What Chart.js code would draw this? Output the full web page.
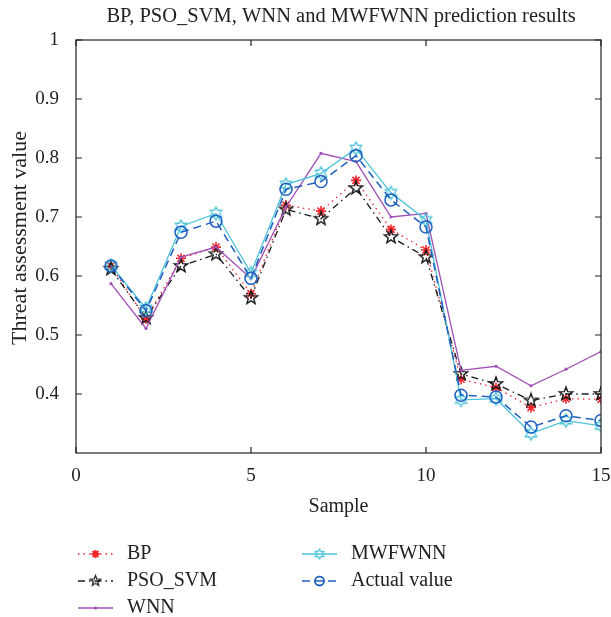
<!DOCTYPE html>
<html>
<head>
<meta charset="utf-8">
<script src="https://cdn.jsdelivr.net/npm/chart.js@4.4.1/dist/chart.umd.min.js"></script>
<style>
  html, body { margin: 0; padding: 0; background: #ffffff; }
  #wrap { width: 611px; height: 617px; position: relative; }
</style>
</head>
<body>
<div id="wrap"><canvas id="c" width="611" height="617"></canvas></div>
<script>
// ---- data ----
const samples = [1, 2, 3, 4, 5, 6, 7, 8, 9, 10, 11, 12, 13, 14, 15];
const bpValues      = [0.617, 0.527, 0.630, 0.649, 0.570, 0.720, 0.710, 0.762, 0.679, 0.644, 0.425, 0.411, 0.377, 0.392, 0.391];
const psoSvmValues  = [0.612, 0.529, 0.617, 0.637, 0.563, 0.713, 0.697, 0.749, 0.666, 0.632, 0.434, 0.417, 0.389, 0.400, 0.400];
const wnnValues     = [0.587, 0.511, 0.632, 0.649, 0.596, 0.717, 0.808, 0.794, 0.700, 0.706, 0.440, 0.447, 0.414, 0.442, 0.472];
const mwfwnnValues  = [0.618, 0.545, 0.684, 0.706, 0.605, 0.755, 0.774, 0.816, 0.741, 0.695, 0.390, 0.392, 0.333, 0.355, 0.346];
const actualValues  = [0.617, 0.541, 0.674, 0.693, 0.596, 0.747, 0.760, 0.804, 0.729, 0.683, 0.398, 0.395, 0.344, 0.363, 0.355];
const seriesNames = ['BP', 'PSO_SVM', 'WNN', 'MWFWNN', 'Actual value'];
const xTicks = [0, 5, 10, 15];
const yTicks = [0.4, 0.5, 0.6, 0.7, 0.8, 0.9, 1];
const chartTitle = 'BP, PSO_SVM, WNN and MWFWNN prediction results';
const xTitle = 'Sample';
const yTitle = 'Threat assessment value';

const FONT = '"Liberation Serif", "DejaVu Serif", serif';
const RED = '#f0262a', BLACK = '#1a1a1a', PURPLE = '#a04fb4', CYAN = '#4cc3d9', BLUE = '#1f5fbf';

function starCanvas(n, rOut, rIn, color, lw, rot) {
  const size = Math.ceil(2 * rOut + 4);
  const cv = document.createElement('canvas');
  cv.width = size; cv.height = size;
  const g = cv.getContext('2d');
  g.translate(size / 2, size / 2);
  g.beginPath();
  for (let i = 0; i < 2 * n; i++) {
    const r = i % 2 === 0 ? rOut : rIn;
    const a = -Math.PI / 2 + rot + i * Math.PI / n;
    const x = r * Math.cos(a), y = r * Math.sin(a);
    if (i === 0) g.moveTo(x, y); else g.lineTo(x, y);
  }
  g.closePath();
  g.strokeStyle = color; g.lineWidth = lw; g.lineJoin = 'miter';
  g.stroke();
  return cv;
}
const pentagram = starCanvas(5, 7, 2.9, BLACK, 1.4, 0);
const hexagram = starCanvas(6, 6.5, 3.6, CYAN, 1.3, 0);
const pentagramSmall = starCanvas(5, 5.5, 2.3, BLACK, 1.2, 0);
const hexagramSmall = starCanvas(6, 5, 2.8, CYAN, 1.2, 0);

function pts(arr) { return arr.map((v, i) => ({ x: samples[i], y: v })); }

const datasets = [
  { label: seriesNames[0], data: pts(bpValues), borderColor: RED, borderWidth: 1.3, borderDash: [1.5, 4],
    pointStyle: 'star', pointRadius: 5, pointBorderColor: RED, pointBorderWidth: 1.6, pointBackgroundColor: RED, order: 5 },
  { label: seriesNames[1], data: pts(psoSvmValues), borderColor: BLACK, borderWidth: 1.3, borderDash: [7, 4, 1.5, 4],
    pointStyle: pentagram, order: 4 },
  { label: seriesNames[2], data: pts(wnnValues), borderColor: PURPLE, borderWidth: 1.3,
    pointStyle: 'circle', pointRadius: 1.6, pointBorderWidth: 0, pointBackgroundColor: PURPLE, order: 3 },
  { label: seriesNames[3], data: pts(mwfwnnValues), borderColor: CYAN, borderWidth: 1.3,
    pointStyle: hexagram, order: 2 },
  { label: seriesNames[4], data: pts(actualValues), borderColor: BLUE, borderWidth: 1.5, borderDash: [8, 5],
    pointStyle: 'circle', pointRadius: 6, pointBorderColor: BLUE, pointBorderWidth: 1.5, pointBackgroundColor: 'rgba(0,0,0,0)', order: 1 }
];
datasets.forEach(d => { d.fill = false; d.tension = 0; d.showLine = true; });
const legendMarkers = [null, pentagramSmall, null, hexagramSmall, null];
const legendRadius = [4, 0, 1.6, 0, 4.5];

const boxPlugin = {
  id: 'boxPlugin',
  afterDraw(chart) {
    const { ctx, chartArea: a, scales } = chart;
    ctx.save();
    ctx.strokeStyle = '#222'; ctx.lineWidth = 1.2;
    ctx.strokeRect(a.left, a.top, a.right - a.left, a.bottom - a.top);
    const tl = 6;
    ctx.beginPath();
    xTicks.forEach(v => {
      const x = scales.x.getPixelForValue(v);
      ctx.moveTo(x, a.bottom); ctx.lineTo(x, a.bottom - tl);
      ctx.moveTo(x, a.top); ctx.lineTo(x, a.top + tl);
    });
    yTicks.forEach(v => {
      const y = scales.y.getPixelForValue(v);
      ctx.moveTo(a.left, y); ctx.lineTo(a.left + tl, y);
      ctx.moveTo(a.right, y); ctx.lineTo(a.right - tl, y);
    });
    ctx.stroke();

    // title
    ctx.fillStyle = '#222';
    ctx.font = '20.5px ' + FONT;
    ctx.textAlign = 'center'; ctx.textBaseline = 'middle';
    ctx.fillText(chartTitle, 341, 17);
    // x title
    ctx.font = '20px ' + FONT;
    ctx.fillText(xTitle, (a.left + a.right) / 2, 507);
    // y title
    ctx.save();
    ctx.font = '22px ' + FONT;
    ctx.translate(20, 238);
    ctx.rotate(-Math.PI / 2);
    ctx.fillText(yTitle, 0, 0);
    ctx.restore();

    // legend
    const items = [
      { ds: 0, x: 78, y: 554 },
      { ds: 1, x: 78, y: 581 },
      { ds: 2, x: 78, y: 608 },
      { ds: 3, x: 302, y: 554 },
      { ds: 4, x: 302, y: 581 }
    ];
    items.forEach(it => {
      const d = datasets[it.ds];
      ctx.save();
      ctx.strokeStyle = d.borderColor; ctx.lineWidth = d.borderWidth;
      ctx.setLineDash(d.borderDash || []);
      ctx.beginPath(); ctx.moveTo(it.x, it.y); ctx.lineTo(it.x + 35, it.y); ctx.stroke();
      ctx.setLineDash([]);
      const mk = legendMarkers[it.ds];
      const cx = it.x + 17.5;
      if (mk) {
        ctx.fillStyle = '#fff';
        ctx.drawImage(mk, cx - mk.width / 2, it.y - mk.height / 2);
      } else {
        ctx.strokeStyle = d.pointBorderColor || d.borderColor;
        ctx.fillStyle = d.pointBackgroundColor || d.borderColor;
        ctx.lineWidth = d.pointBorderWidth || 1;
        Chart.helpers.drawPoint(ctx, { pointStyle: d.pointStyle, radius: legendRadius[it.ds], borderWidth: d.pointBorderWidth, rotation: 0 }, cx, it.y);
        if (d.pointBorderWidth) ctx.stroke();
      }
      ctx.restore();
      ctx.fillStyle = '#222';
      ctx.font = '20px ' + FONT;
      ctx.textAlign = 'left'; ctx.textBaseline = 'middle';
      ctx.fillText(d.label, it.x + 49, it.y);
    });
    ctx.restore();
  }
};

new Chart(document.getElementById('c'), {
  type: 'line',
  data: { datasets },
  options: {
    responsive: false,
    animation: false,
    devicePixelRatio: 1,
    layout: { padding: { top: 40, right: 0, bottom: 94, left: 0 } },
    plugins: { legend: { display: false }, title: { display: false }, tooltip: { enabled: false } },
    scales: {
      x: {
        type: 'linear', min: 0, max: 15,
        grid: { display: false }, border: { display: false },
        afterBuildTicks: s => { s.ticks = xTicks.map(v => ({ value: v })); },
        afterFit: s => { s.height = 70; s.paddingRight = 10; s.paddingLeft = 0; },
        ticks: { font: { family: FONT, size: 19 }, color: '#222', padding: 4, maxRotation: 0 }
      },
      y: {
        type: 'linear', min: 0.3, max: 1,
        grid: { display: false }, border: { display: false },
        afterBuildTicks: s => { s.ticks = yTicks.map(v => ({ value: v })); },
        afterFit: s => { s.width = 76; },
        ticks: { font: { family: FONT, size: 19 }, color: '#222', padding: 9,
          callback: v => (v === 1 ? '1' : v.toFixed(1)) }
      }
    }
  },
  plugins: [boxPlugin]
});
</script>
</body>
</html>
